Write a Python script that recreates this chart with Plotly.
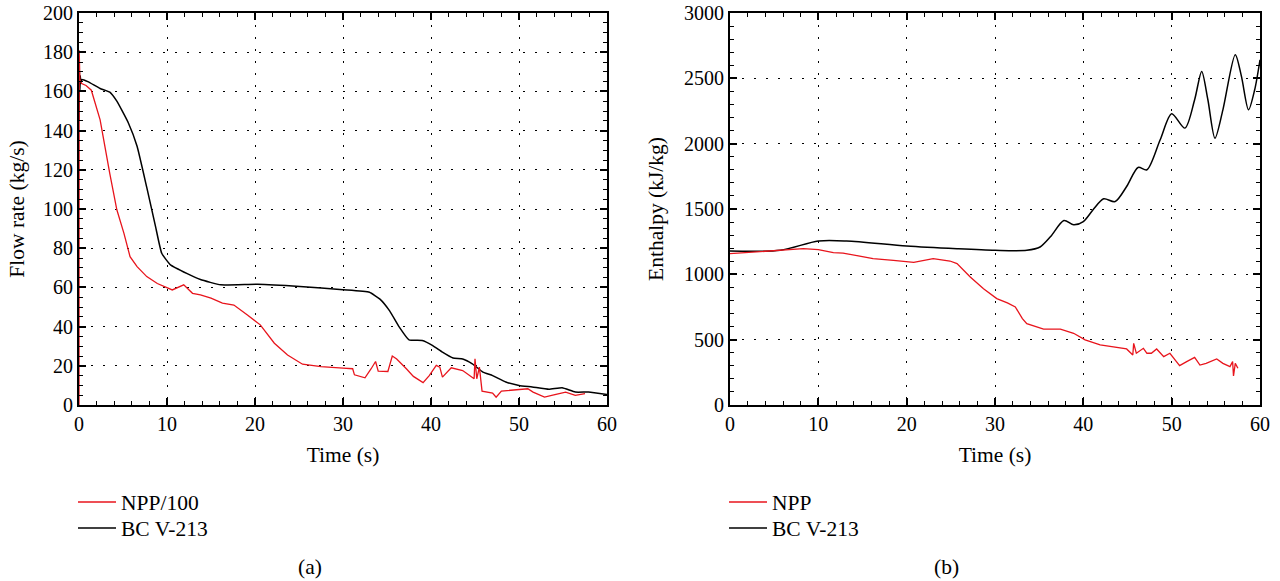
import plotly.graph_objects as go

# ---------------- data: panel (a) flow rate ----------------
a_npp_t = [0, 0.02, 0.05, 0.1, 0.3, 0.8, 1.4, 2.4, 3.5, 4.3, 5.1, 5.8, 6.6, 7.7, 8.9, 10.6, 11.9,
           12.9, 13.8, 15.0, 16.3, 17.6, 19.1, 20.6, 22.2, 23.7, 25.4, 27.5, 30.0, 31.1, 31.3,
           32.5, 33.2, 33.7, 34.0, 35.1, 35.6, 36.1, 37.2, 38.0, 39.1, 39.8, 40.6, 41.0, 41.3,
           42.3, 43.6, 44.9, 45.0, 45.2, 45.5, 45.8, 47.0, 47.4, 48.0, 49.3, 51.0, 51.6, 52.9,
           54.2, 55.3, 56.4, 57.5]
a_npp_v = [0, 181, 150, 166, 164, 163, 160.6, 145.5, 118, 99.6, 87.7, 75.7, 70.6, 65.5, 62, 58.7,
           61.3, 57, 56.2, 54.5, 52, 51, 46, 40.9, 31.5, 25.5, 20.8, 19.6, 18.8, 18.5, 15.4,
           13.9, 18.5, 22.2, 17.3, 17.1, 25, 23.5, 18.5, 14.6, 11.4, 15, 20.2, 19.3, 14.2,
           19, 17.6, 13.4, 23.6, 13.4, 19.3, 7.1, 6.1, 4, 7.1, 7.5, 8.3, 6.6, 4,
           5.4, 6.6, 4.9, 5.8]

a_bc_t = [0, 0.05, 0.1, 0.15, 0.2, 0.3, 1.0, 2.4, 3.5, 4.3, 5.6, 6.6, 7.7, 8.7, 9.4, 10.4, 12.3,
          13.8, 16.1, 20.3, 25.1, 30.0, 33.0, 34.2, 35.3, 36.4, 37.5, 39.0, 40.2, 41.3, 42.5,
          43.6, 44.7, 45.9, 47.0, 48.5, 50.0, 51.5, 53.4, 54.9, 56.4, 57.9, 60.0]
a_bc_v = [145, 170, 160, 168, 164, 166, 165, 161.5, 159.6, 155, 144, 132, 111, 91, 77.4, 71.5, 67,
          64, 61.3, 61.6, 60.5, 58.8, 57.5, 54, 48, 39.7, 33.2, 32.9, 30.3, 27, 24,
          23.5, 21, 16.8, 15, 11.7, 10, 9.2, 8, 8.8, 6.6, 6.6, 5.4]

# ---------------- data: panel (b) enthalpy ----------------
b_npp_t = [0, 4.9, 8.3, 10.0, 11.7, 12.8, 16.2, 18.5, 20.8, 23.0, 24.9, 25.7, 27.2, 28.7, 30.2,
           31.4, 32.3, 33.1, 33.6, 35.5, 37.4, 38.9, 40.2, 41.9, 43.4, 44.9, 45.6, 45.7, 46.0,
           46.8, 47.2, 47.7, 48.3, 49.1, 49.8, 50.9, 51.7, 52.6, 53.2, 53.9, 55.1, 55.8, 56.6,
           56.9, 57.0, 57.2, 57.5]
b_npp_v = [1158, 1178, 1196, 1189, 1166, 1163, 1120, 1107, 1092, 1120, 1102, 1082, 980, 890, 814,
           781, 750, 661, 622, 580, 580, 549, 498, 460, 447, 429, 383, 472, 396,
           434, 396, 396, 429, 370, 396, 301, 332, 365, 306, 319, 352, 319, 294,
           332, 222, 319, 281]

b_bc_t = [0, 5.7, 10.0, 13.2, 20.0, 25.7, 30.0, 33.6, 35.1, 36.3, 37.8, 38.9, 40.0, 41.1, 42.3,
          43.6, 44.9, 46.2, 47.2, 48.7, 50.0, 51.5, 52.6, 53.4, 54.1, 54.9, 55.8, 57.2, 57.9,
          58.7, 59.4, 60.0]
b_bc_v = [1178, 1184, 1255, 1255, 1217, 1196, 1184, 1184, 1209, 1289, 1412, 1379, 1404, 1494, 1578,
          1557, 1672, 1818, 1800, 2030, 2229, 2119, 2336, 2553, 2336, 2042, 2259, 2681, 2515,
          2259, 2413, 2642]

x_ticks = [0, 10, 20, 30, 40, 50, 60]
a_y_ticks = [0, 20, 40, 60, 80, 100, 120, 140, 160, 180, 200]
b_y_ticks = [0, 500, 1000, 1500, 2000, 2500, 3000]

FONT = "Liberation Serif, Times New Roman, serif"
FS = 20      # tick labels
FT = 21.5    # titles / legend / captions
RED = "#e8141c"
BLACK = "#000000"

W, H = 1280, 581

def px_x(p):
    return p / W

def px_y(p):
    return (H - p) / H

fig = go.Figure()
fig.add_trace(go.Scatter(x=a_bc_t, y=a_bc_v, mode="lines", name="BC V-213",
                         line=dict(color=BLACK, width=1.5, shape="spline", smoothing=0.4),
                         xaxis="x", yaxis="y", legend="legend2", showlegend=True))
fig.add_trace(go.Scatter(x=a_npp_t, y=a_npp_v, mode="lines", name="NPP/100",
                         line=dict(color=RED, width=1.3),
                         xaxis="x", yaxis="y", legend="legend", showlegend=True))
fig.add_trace(go.Scatter(x=b_bc_t, y=b_bc_v, mode="lines", name="BC V-213",
                         line=dict(color=BLACK, width=1.5, shape="spline", smoothing=0.8),
                         xaxis="x2", yaxis="y2", legend="legend4", showlegend=True))
fig.add_trace(go.Scatter(x=b_npp_t, y=b_npp_v, mode="lines", name="NPP",
                         line=dict(color=RED, width=1.3),
                         xaxis="x2", yaxis="y2", legend="legend3", showlegend=True))

ydom = [px_y(405), px_y(13)]

def xaxis(domain, anchor):
    return dict(domain=domain, anchor=anchor, range=[0, 60], tickvals=x_ticks,
                ticks="inside", ticklen=7, tickwidth=1.5, tickcolor=BLACK,
                showline=True, linecolor=BLACK, linewidth=2, mirror="allticks",
                showgrid=True, gridcolor=BLACK, gridwidth=1.3, griddash="1.5px,10.5px",
                zeroline=False, tickfont=dict(family=FONT, size=FS, color=BLACK),
                ticklabeloverflow="allow",
                minor=dict(dtick=2, ticks="inside", ticklen=4, tickwidth=1.3, tickcolor=BLACK,
                           showgrid=False),
                title=dict(text="Time (s)", font=dict(family=FONT, size=FT, color=BLACK),
                           standoff=13),
                automargin=False)

def yaxis(anchor, rng, ticks, minor, title, standoff):
    return dict(domain=ydom, anchor=anchor, range=rng, tickvals=ticks,
                ticks="inside", ticklen=7, tickwidth=1.5, tickcolor=BLACK,
                showline=True, linecolor=BLACK, linewidth=2, mirror="allticks",
                showgrid=True, gridcolor=BLACK, gridwidth=1.3, griddash="1.5px,10.5px",
                zeroline=False, tickfont=dict(family=FONT, size=FS, color=BLACK),
                ticklabeloverflow="allow",
                minor=dict(dtick=minor, ticks="inside", ticklen=4, tickwidth=1.3,
                           tickcolor=BLACK, showgrid=False),
                title=dict(text=title, font=dict(family=FONT, size=FT, color=BLACK),
                           standoff=standoff),
                automargin=False)

legend_common = dict(font=dict(family=FONT, size=FT, color=BLACK), bgcolor="rgba(0,0,0,0)",
                     itemwidth=38, tracegroupgap=0, yanchor="middle", xanchor="left",
                     borderwidth=0, visible=True)

fig.update_layout(
    width=W, height=H,
    showlegend=True,
    margin=dict(l=0, r=0, t=0, b=0),
    paper_bgcolor="white", plot_bgcolor="white",
    xaxis=xaxis([px_x(79), px_x(607)], "y"),
    yaxis=yaxis("x", [0, 200], a_y_ticks, 5, "Flow rate (kg/s)", 12),
    xaxis2=xaxis([px_x(730), px_x(1260)], "y2"),
    yaxis2=yaxis("x2", [0, 3000], b_y_ticks, 100, "Enthalpy (kJ/kg)", 14),
    legend=dict(x=px_x(73), y=px_y(502), **legend_common),
    legend2=dict(x=px_x(73), y=px_y(528), **legend_common),
    legend3=dict(x=px_x(724), y=px_y(502), **legend_common),
    legend4=dict(x=px_x(724), y=px_y(528), **legend_common),
    annotations=[
        dict(text="(a)", x=px_x(310), y=px_y(567), xref="paper", yref="paper",
             xanchor="center", yanchor="middle",
             showarrow=False, font=dict(family=FONT, size=FT, color=BLACK)),
        dict(text="(b)", x=px_x(946), y=px_y(567), xref="paper", yref="paper",
             xanchor="center", yanchor="middle",
             showarrow=False, font=dict(family=FONT, size=FT, color=BLACK)),
    ],
)

fig.write_html("out.html", config={"displayModeBar": False},
               post_script="document.body.style.margin='0';document.body.style.padding='0';")
